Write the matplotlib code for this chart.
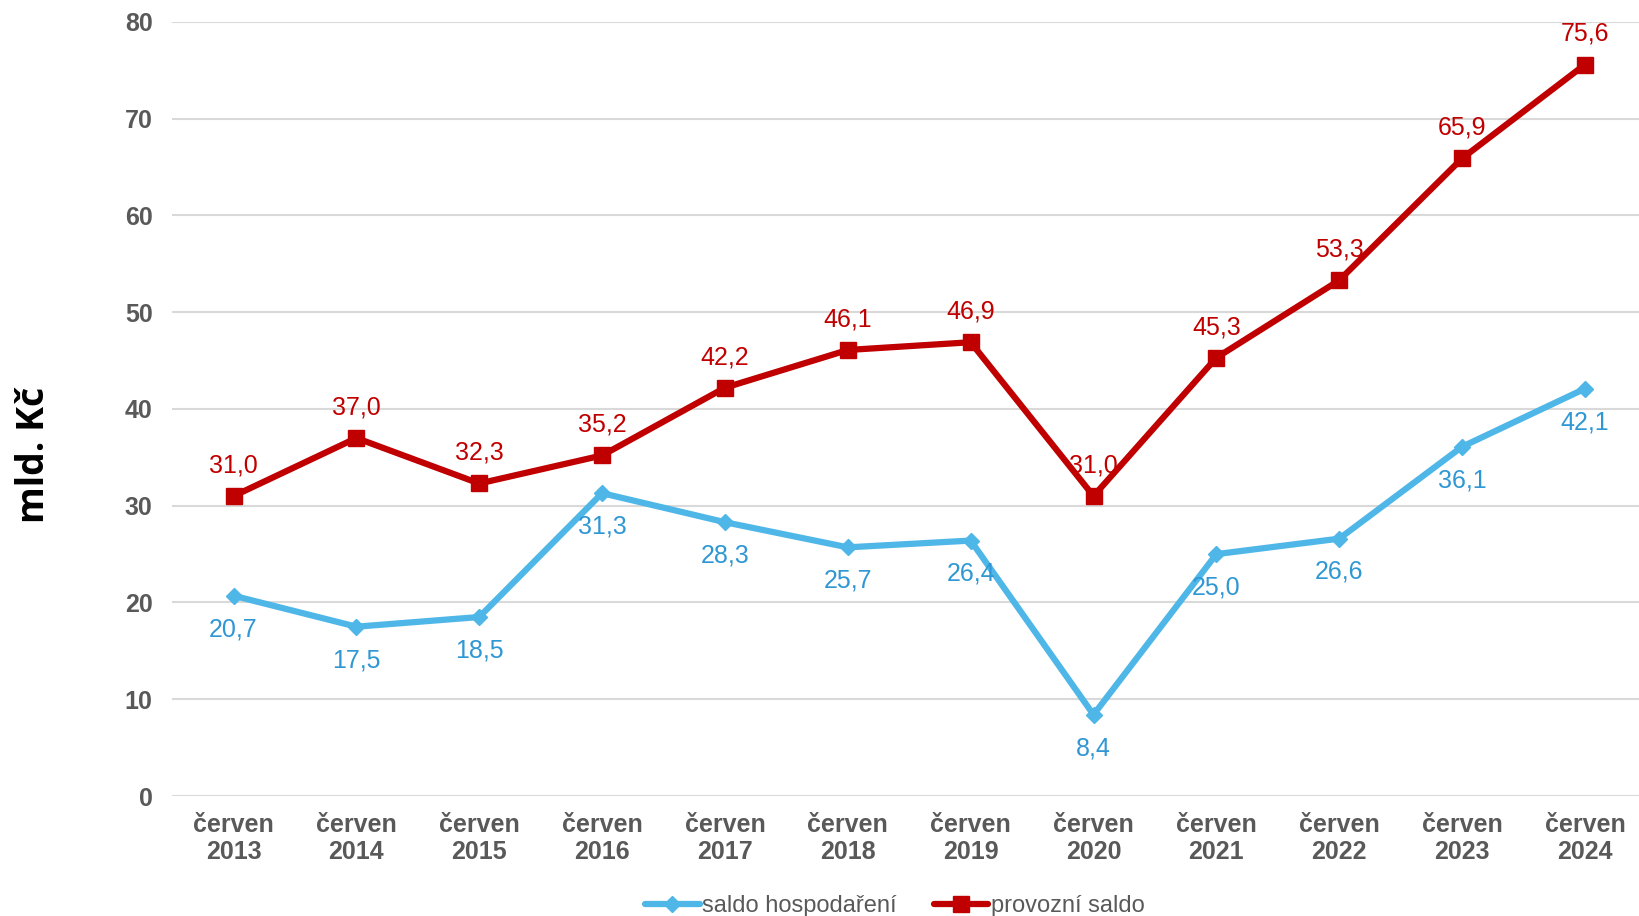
import matplotlib
matplotlib.use('Agg')
from matplotlib import pyplot as plt

# saldo hospodaření a provozní saldo, mld. Kč

years = ['2013', '2014', '2015', '2016', '2017', '2018',
         '2019', '2020', '2021', '2022', '2023', '2024']
saldo_hosp = [20.7, 17.5, 18.5, 31.3, 28.3, 25.7, 26.4, 8.4, 25.0, 26.6, 36.1, 42.1]
provozni = [31.0, 37.0, 32.3, 35.2, 42.2, 46.1, 46.9, 31.0, 45.3, 53.3, 65.9, 75.6]

plt.rcParams['font.family'] = ['Liberation Sans', 'DejaVu Sans']

blue_line = '#4FB6E8'
blue_text = '#2F97D3'
red = '#C00000'
grey = '#595959'

fig = plt.figure(figsize=(16.39, 9.16), dpi=100)
ax = fig.add_axes([0.105, 0.131, 0.895, 0.845])

x = list(range(len(years)))
l1, = ax.plot(x, saldo_hosp, color=blue_line, linewidth=4.5, marker='D',
              markersize=8, label='saldo hospodaření', solid_capstyle='round')
l2, = ax.plot(x, provozni, color=red, linewidth=4.5, marker='s',
              markersize=11, label='provozní saldo', solid_capstyle='round')

for i in x:
    ax.annotate(f'{saldo_hosp[i]:.1f}'.replace('.', ','), (i, saldo_hosp[i]),
                xytext=(0, -24), textcoords='offset points', ha='center', va='center',
                color=blue_text, fontsize=18)
    ax.annotate(f'{provozni[i]:.1f}'.replace('.', ','), (i, provozni[i]),
                xytext=(0, 22), textcoords='offset points', ha='center', va='center',
                color=red, fontsize=18)

ax.set_ylim(0, 80)
ax.set_yticks(range(0, 81, 10))
ax.set_xlim(-0.5, 11.44)
ax.set_xticks(x)
ax.set_xticklabels(['červen\n' + y for y in years], fontsize=18, fontweight='bold',
                   color=grey, linespacing=1.15)
ax.tick_params(axis='y', labelsize=18, labelcolor=grey, length=0, pad=14)
ax.tick_params(axis='x', length=0, pad=12)
for lab in ax.get_yticklabels():
    lab.set_fontweight('bold')

ax.yaxis.grid(True, color='#D9D9D9', linewidth=1.5)
ax.set_axisbelow(True)
for s in ax.spines.values():
    s.set_visible(False)

fig.text(0.021, 0.503, 'mld. Kč', rotation=90, ha='center', va='center',
         fontsize=27, fontweight='bold', family=['Open Sans', 'DejaVu Sans'])

fig.legend(handles=[l1, l2], loc='center', bbox_to_anchor=(0.546, 0.011),
           ncol=2, frameon=False, fontsize=17, labelcolor=grey,
           handlelength=2.3, handletextpad=0.1, columnspacing=1.6)

fig.savefig('out.png', dpi=100)
